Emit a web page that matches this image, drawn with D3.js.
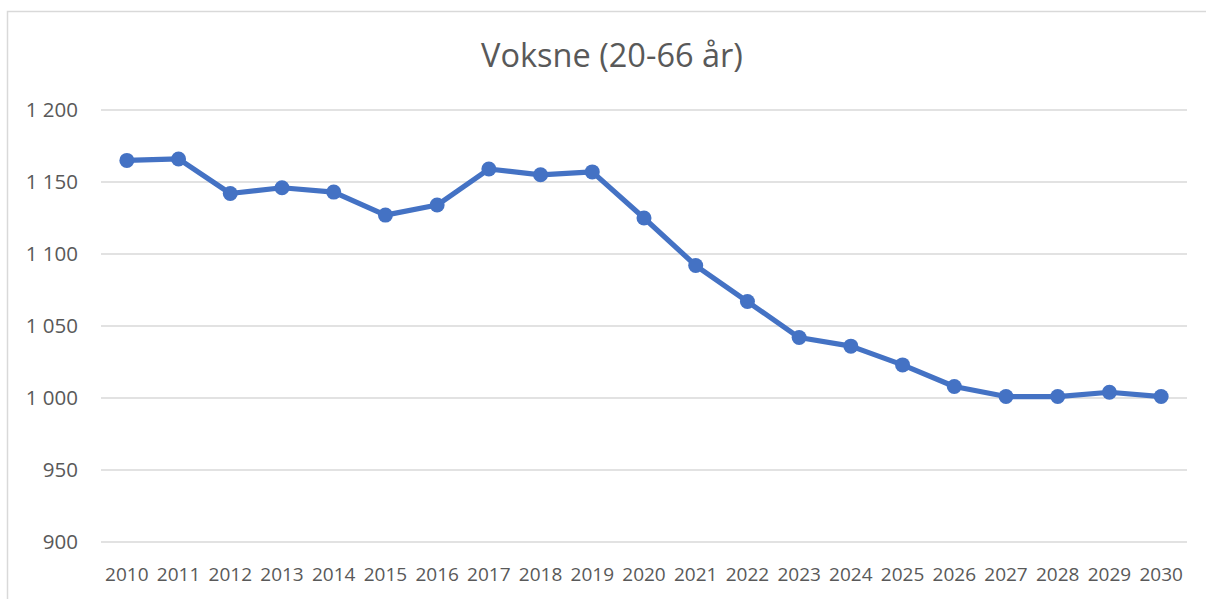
<!DOCTYPE html>
<html>
<head>
<meta charset="utf-8">
<script src="https://cdn.jsdelivr.net/npm/d3@7"></script>
<style>
  body { margin: 0; background: #fff; }
  svg { display: block; font-family: "Open Sans", sans-serif; }
</style>
</head>
<body>
<div id="chart"></div>
<script>
// data
const years = ["2010","2011","2012","2013","2014","2015","2016","2017","2018","2019","2020",
               "2021","2022","2023","2024","2025","2026","2027","2028","2029","2030"];
const voksne = [1165, 1166, 1142, 1146, 1143, 1127, 1134, 1159, 1155, 1157, 1125,
                1092, 1067, 1042, 1036, 1023, 1008, 1001, 1001, 1004, 1001];
const yTicks = [900, 950, 1000, 1050, 1100, 1150, 1200];

const W = 1206, H = 599;
const plot = { left: 101, right: 1187, top: 110, bottom: 542 };

const svg = d3.select("#chart").append("svg")
    .attr("width", W)
    .attr("height", H);

// chart area border (runs off the right/bottom edge like the reference)
svg.append("rect")
    .attr("x", 7.5).attr("y", 11.5)
    .attr("width", W + 10).attr("height", H + 10)
    .attr("fill", "none")
    .attr("stroke", "#d9d9d9")
    .attr("stroke-width", 1.5);

svg.append("text")
    .attr("x", 612).attr("y", 67)
    .attr("text-anchor", "middle")
    .attr("font-size", 32.5)
    .attr("fill", "#595959")
    .text("Voksne (20-66 år)");

const x = d3.scaleBand().domain(years).range([plot.left, plot.right]);
const y = d3.scaleLinear().domain([900, 1200]).range([plot.bottom, plot.top]);

// gridlines
svg.append("g")
    .selectAll("line")
    .data(yTicks)
    .join("line")
    .attr("x1", plot.left).attr("x2", plot.right)
    .attr("y1", d => y(d)).attr("y2", d => y(d))
    .attr("stroke", "#d9d9d9")
    .attr("stroke-width", 1.5);

const fmt = d => d3.format(",")(d).replace(",", " ");

// y axis labels
const yAxis = svg.append("g")
    .attr("transform", `translate(${plot.left - 23},0)`)
    .call(d3.axisLeft(y).tickValues(yTicks).tickFormat(fmt).tickSize(0).tickPadding(0));
yAxis.select(".domain").remove();
yAxis.selectAll("text")
    .attr("font-family", "Open Sans, sans-serif")
    .attr("font-size", 20.5)
    .attr("fill", "#595959");

// x axis labels
const xAxis = svg.append("g")
    .attr("transform", `translate(0,${plot.bottom})`)
    .call(d3.axisBottom(x).tickSize(0).tickPadding(0));
xAxis.select(".domain").remove();
xAxis.selectAll("text")
    .attr("dy", null)
    .attr("y", 39)
    .attr("font-family", "Open Sans, sans-serif")
    .attr("font-size", 19)
    .attr("fill", "#595959");

const cx = d => x(d) + x.bandwidth() / 2;

const line = d3.line()
    .x((d, i) => cx(years[i]))
    .y(d => y(d));

svg.append("path")
    .datum(voksne)
    .attr("d", line)
    .attr("fill", "none")
    .attr("stroke", "#4472C4")
    .attr("stroke-width", 5.2)
    .attr("stroke-linejoin", "round");

svg.append("g")
    .selectAll("circle")
    .data(voksne)
    .join("circle")
    .attr("cx", (d, i) => cx(years[i]))
    .attr("cy", d => y(d))
    .attr("r", 7.5)
    .attr("fill", "#4472C4");
</script>
</body>
</html>
